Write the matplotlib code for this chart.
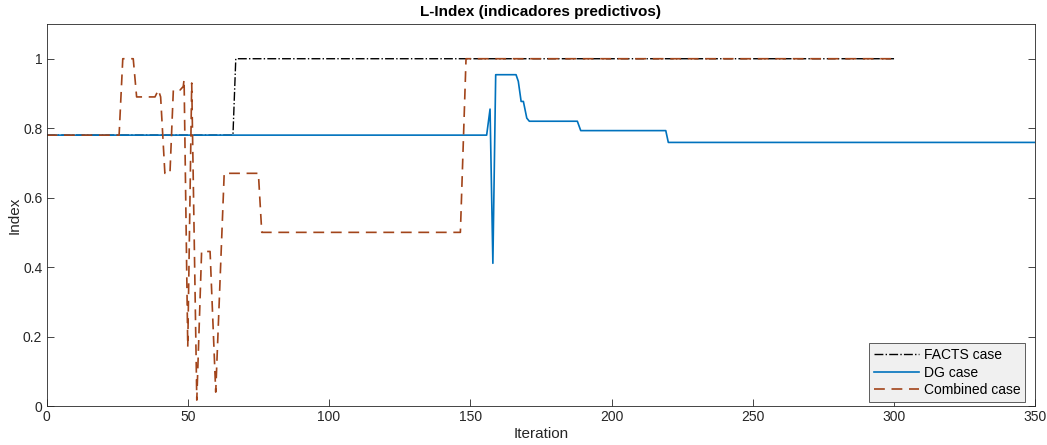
import matplotlib.pyplot as plt

plt.rcParams['font.family'] = ['Liberation Sans', 'DejaVu Sans']

# FACTS case
facts_x = [0, 66, 67, 300]
facts_y = [0.78, 0.78, 1.0, 1.0]

# DG case
dg_x = [0, 155.8, 157, 158, 159, 166.2, 167, 168, 168.8, 170, 170.9, 187.9, 189.1, 219.2, 220.1, 350]
dg_y = [0.78, 0.78, 0.855, 0.411, 0.954, 0.954, 0.935, 0.877, 0.877, 0.829, 0.82, 0.82, 0.793, 0.793, 0.759, 0.759]

# Combined case
comb_x = [0, 25.7, 27, 30.7, 31.9, 38.4, 39.6, 40.4, 41.9, 43.7, 44.9, 47.3, 48.4, 48.7,
          50.0, 51.4, 53.2, 54.9, 57.9, 59.9, 62.9, 75.0, 76.2, 146.5, 148.5, 299]
comb_y = [0.78, 0.78, 1.0, 1.0, 0.89, 0.89, 0.91, 0.89, 0.67, 0.67, 0.91, 0.91, 0.92, 0.94,
          0.17, 0.93, 0.017, 0.445, 0.445, 0.04, 0.67, 0.67, 0.5, 0.5, 1.0, 1.0]

fig = plt.figure(figsize=(10.47, 4.45), dpi=100)
ax = fig.add_axes([46.5 / 1047, 1 - 406 / 445, (1035.3 - 46.5) / 1047, (406 - 24) / 445])

ax.plot(facts_x, facts_y, color='black', linestyle='-.', linewidth=1.0, label='FACTS case')
ax.plot(dg_x, dg_y, color='#0072BD', linestyle='-', linewidth=1.2, label='DG case')
ax.plot(comb_x, comb_y, color='#A2441A', linestyle=(0, (6.5, 4)), linewidth=1.2, label='Combined case')

ax.set_xlim(0, 350)
ax.set_ylim(0, 1.1)
ax.set_xticks(range(0, 351, 50))
ax.set_yticks([0, 0.2, 0.4, 0.6, 0.8, 1])
ax.set_yticklabels(['0', '0.2', '0.4', '0.6', '0.8', '1'])
ax.tick_params(direction='in', length=5, width=0.6, colors='#262626', labelsize=10,
               top=False, right=True, pad=3)
for s in ax.spines.values():
    s.set_color('#262626')
    s.set_linewidth(0.6)

ax.set_xlabel('Iteration', fontsize=11, color='#262626', labelpad=2)
ax.set_ylabel('Index', fontsize=11, color='#262626')
ax.yaxis.set_label_coords(-0.025, 0.5)
ax.set_title('L-Index (indicadores predictivos)', fontsize=11, fontweight='bold', pad=6)

leg = ax.legend(loc='lower right', bbox_to_anchor=(0.9896, 0.0105), borderaxespad=0,
                fontsize=10, fancybox=False, framealpha=1, borderpad=0.35,
                handlelength=3.3, handletextpad=0.3, labelspacing=0.25)
leg.get_frame().set_facecolor('#f0f0f0')
leg.get_frame().set_edgecolor('#444444')
leg.get_frame().set_linewidth(0.6)

plt.savefig('out.png', dpi=100)
